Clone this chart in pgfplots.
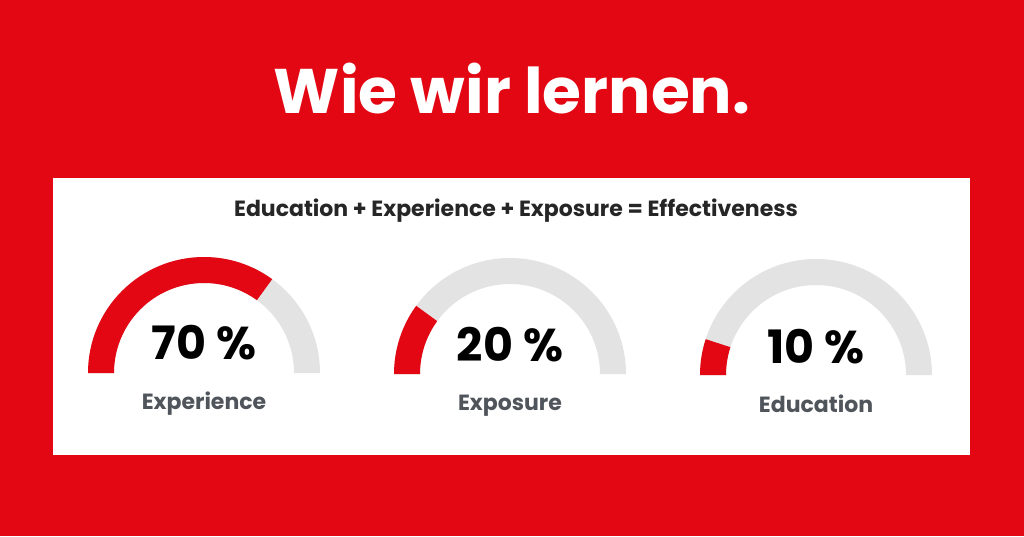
\documentclass[border=0pt]{standalone}
\usepackage{fontspec}
\setmainfont{Poppins}
\usepackage{pgfplots}
\pgfplotsset{compat=1.18}

\definecolor{brandred}{HTML}{E30613}
\definecolor{track}{HTML}{E3E3E3}
\definecolor{labelgray}{HTML}{50555C}

% gauge values (percent)
\def\valA{70}
\def\valB{20}
\def\valC{10}
\pgfmathsetmacro{\angA}{180-1.8*\valA}
\pgfmathsetmacro{\angB}{180-1.8*\valB}
\pgfmathsetmacro{\angC}{180-1.8*\valC}
\def\Ro{116}
\def\Ri{90}

% #1 cx, #2 cy, #3 end angle
\newcommand{\gauge}[3]{%
  \fill[track] (axis cs:#1-\Ro,#2) arc[start angle=180,end angle=0,radius=\Ro pt]
     -- (axis cs:#1+\Ri,#2) arc[start angle=0,end angle=180,radius=\Ri pt] -- cycle;
  \fill[brandred] (axis cs:#1-\Ro,#2) arc[start angle=180,end angle=#3,radius=\Ro pt]
     -- ([shift={(#3:\Ri pt)}]axis cs:#1,#2) arc[start angle=#3,end angle=180,radius=\Ri pt] -- cycle;
}

\begin{document}
\begin{tikzpicture}
\begin{axis}[x=1pt,y=1pt,xmin=0,xmax=1024,ymin=0,ymax=536,
  hide axis,clip=false,scale only axis]
\addplot[draw=none] coordinates {(0,0) (1024,536)};
\fill[brandred] (axis cs:0,0) rectangle (axis cs:1024,536);
\fill[white] (axis cs:53,81) rectangle (axis cs:970,358);
\node[anchor=base,text=white,font=\fontsize{63}{70}\selectfont\bfseries] at (axis cs:512,422) {Wie wir lernen.};
\node[anchor=base,text=black!85,font=\fontsize{22}{26}\selectfont\bfseries] at (axis cs:516,319) {Education + Experience + Exposure = Effectiveness};
\gauge{204}{163}{\angA}
\gauge{510}{162}{\angB}
\gauge{816}{161}{\angC}
\node[anchor=base,font=\fontsize{46}{52}\selectfont\bfseries] at (axis cs:204,177) {\valA\ \%};
\node[anchor=base,font=\fontsize{46}{52}\selectfont\bfseries] at (axis cs:510,175) {\valB\ \%};
\node[anchor=base,font=\fontsize{46}{52}\selectfont\bfseries] at (axis cs:816,173) {\valC\ \%};
\node[anchor=base,text=labelgray,font=\fontsize{22}{26}\selectfont\bfseries] at (axis cs:204,127) {Experience};
\node[anchor=base,text=labelgray,font=\fontsize{22}{26}\selectfont\bfseries] at (axis cs:510,126) {Exposure};
\node[anchor=base,text=labelgray,font=\fontsize{22}{26}\selectfont\bfseries] at (axis cs:816,124) {Education};
\end{axis}
\end{tikzpicture}
\end{document}
